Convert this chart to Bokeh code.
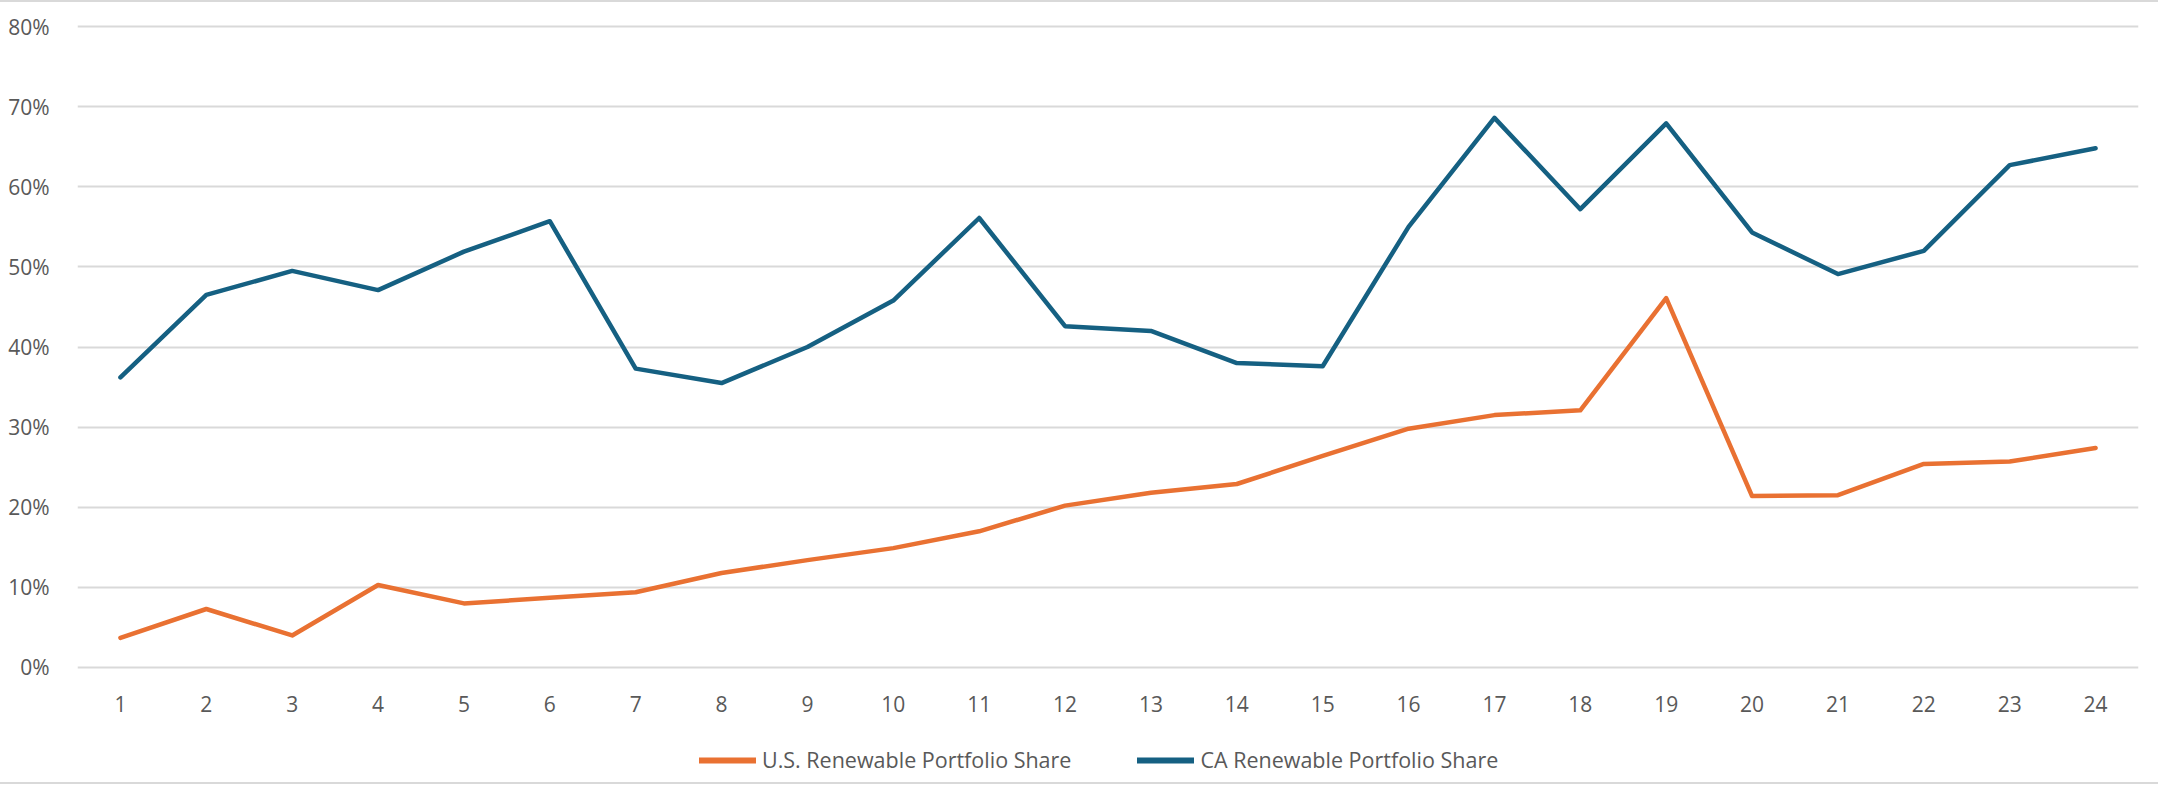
from bokeh.plotting import figure
from bokeh.layouts import column
from bokeh.models import Range1d, FixedTicker, NumeralTickFormatter, Legend, LegendItem, ColumnDataSource
from bokeh.embed import file_html
from bokeh.resources import INLINE

periods = list(range(1, 25))
period_labels = [str(i) for i in periods]
us_share = [0.037, 0.073, 0.040, 0.103, 0.080, 0.087, 0.094, 0.118, 0.134, 0.149, 0.170, 0.202,
            0.218, 0.229, 0.264, 0.298, 0.315, 0.321, 0.461, 0.214, 0.215, 0.254, 0.257, 0.274]
ca_share = [0.362, 0.465, 0.495, 0.471, 0.519, 0.557, 0.373, 0.355, 0.400, 0.458, 0.561, 0.426,
            0.420, 0.380, 0.376, 0.550, 0.686, 0.572, 0.679, 0.543, 0.491, 0.520, 0.627, 0.648]
y_ticks = [0, 0.1, 0.2, 0.3, 0.4, 0.5, 0.6, 0.7, 0.8]
series_names = ["U.S. Renewable Portfolio Share", "CA Renewable Portfolio Share"]

FONT = "Open Sans"
FS = "21px"
TXT = "#595959"
GRID = "#D9D9D9"
ORANGE = "#E97132"
BLUE = "#156082"

src = ColumnDataSource(dict(x=periods, us=us_share, ca=ca_share))

# ---- main chart ----
p = figure(width=2158, height=716, output_backend="svg", toolbar_location=None,
           x_range=Range1d(0.5, 24.5), y_range=Range1d(-0.0025, 0.8025),
           min_border_left=77, min_border_right=20, min_border_top=22, min_border_bottom=49)
p.outline_line_color = None
p.background_fill_color = "white"
p.border_fill_color = "white"

p.line("x", "us", source=src, line_color=ORANGE, line_width=4.5, line_cap="round", line_join="round")
p.line("x", "ca", source=src, line_color=BLUE, line_width=4.5, line_cap="round", line_join="round")

p.xgrid.grid_line_color = None
p.ygrid.grid_line_color = GRID
p.ygrid.grid_line_width = 2
p.ygrid.ticker = FixedTicker(ticks=y_ticks)

p.yaxis.ticker = FixedTicker(ticks=y_ticks)
p.yaxis.formatter = NumeralTickFormatter(format="0%")
p.yaxis.axis_line_color = None
p.yaxis.major_tick_line_color = None
p.yaxis.minor_tick_line_color = None
p.yaxis.major_label_standoff = 22

p.xaxis.ticker = FixedTicker(ticks=periods)
p.xaxis.major_label_overrides = {i: lab for i, lab in zip(periods, period_labels)}
p.xaxis.axis_line_color = None
p.xaxis.major_tick_line_color = None
p.xaxis.minor_tick_line_color = None
p.xaxis.major_label_standoff = 20

for ax in (p.xaxis[0], p.yaxis[0]):
    ax.major_label_text_font = FONT
    ax.major_label_text_font_size = FS
    ax.major_label_text_color = TXT

p.styles = {"border-top": "2px solid #D9D9D9"}

# ---- legend strip (series lines kept out of its view; only the legend shows) ----
q = figure(width=2158, height=68, output_backend="svg", toolbar_location=None,
           x_range=Range1d(100, 101), y_range=Range1d(100, 101),
           x_axis_location=None, y_axis_location=None, min_border=0)
q.outline_line_color = None
q.grid.visible = False
q.background_fill_color = "white"
q.border_fill_color = "white"
k_us = q.line("x", "us", source=src, line_color=ORANGE, line_width=6, line_cap="round")
k_ca = q.line("x", "ca", source=src, line_color=BLUE, line_width=6, line_cap="round")

legend = Legend(items=[LegendItem(label=series_names[0], renderers=[k_us]),
                       LegendItem(label=series_names[1], renderers=[k_ca])],
                orientation="horizontal", location=(622, 10),
                label_text_font=FONT, label_text_font_size="21.5px", label_text_color=TXT,
                glyph_width=57, glyph_height=20, label_height=20, label_standoff=6, spacing=66,
                padding=0, margin=0, border_line_color=None, background_fill_alpha=0)
q.add_layout(legend, "center")
q.styles = {"border-bottom": "2px solid #D9D9D9"}

open("out.html", "w").write(file_html(column(p, q, spacing=0), INLINE))
